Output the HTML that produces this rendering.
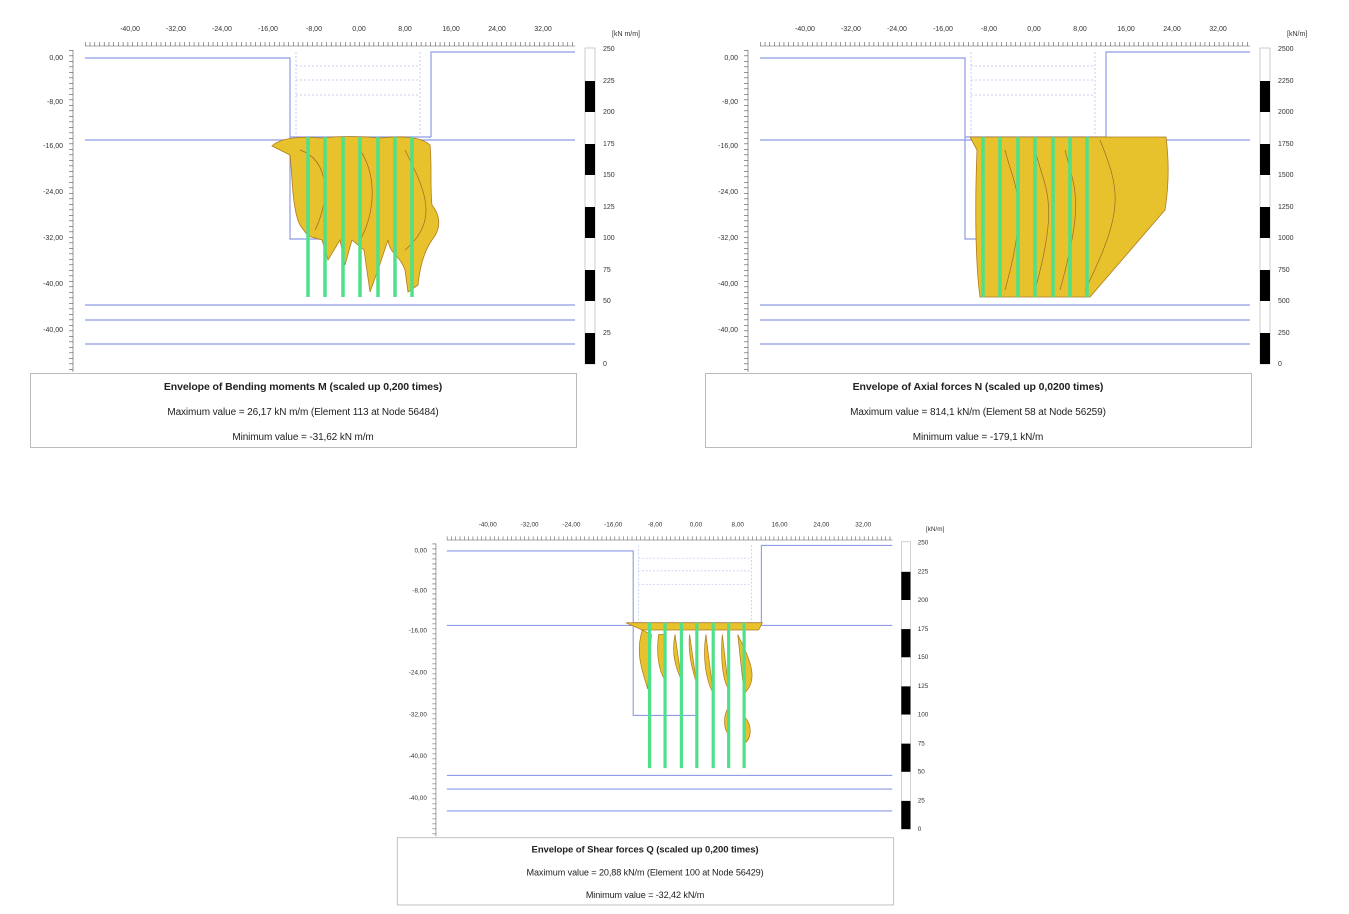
<!DOCTYPE html>
<html><head><meta charset="utf-8"><style>
body{margin:0;background:#fff;}
svg{display:block;font-family:"Liberation Sans",sans-serif;}
.t{font-size:7px;fill:#333;}
.cap{font-size:10.5px;font-weight:bold;fill:#222;text-anchor:middle;letter-spacing:-0.1px;}
.cv{font-size:10px;fill:#222;text-anchor:middle;letter-spacing:-0.1px;}
.bl{stroke:#8e9be6;stroke-width:1.2;fill:none;}
.dl{stroke:#b8c0f0;stroke-width:0.8;fill:none;stroke-dasharray:2 2;}
.env{fill:#e7c22c;stroke:#b07a20;stroke-width:0.8;}
.pile{stroke:#4fe08a;stroke-width:3.5;}
</style></head><body>
<svg width="1349" height="914" viewBox="0 0 1349 914">
<defs>
<g id="frame">
  <line x1="85" y1="46" x2="575" y2="46" stroke="#555" stroke-width="0.6"/>
  <line x1="85" y1="44" x2="575" y2="44" stroke="#555" stroke-width="4" stroke-dasharray="0.6 4.13"/>
  <line x1="73" y1="50" x2="73" y2="372" stroke="#555" stroke-width="0.6"/>
  <line x1="71" y1="50" x2="71" y2="372" stroke="#555" stroke-width="4" stroke-dasharray="0.6 4.9"/>
  <polyline class="bl" points="85,58 290,58 290,137"/>
  <polyline class="bl" points="431,137 431,52 575,52"/>
  <line class="bl" x1="85" y1="140" x2="575" y2="140"/>
  <polyline class="bl" points="290,137 290,239 360,239"/>
  <line class="bl" x1="290" y1="137" x2="431" y2="137"/>
  <line class="dl" x1="296" y1="66" x2="420" y2="66"/>
  <line class="dl" x1="296" y1="80" x2="420" y2="80"/>
  <line class="dl" x1="296" y1="95" x2="420" y2="95"/>
  <line class="dl" x1="296" y1="52" x2="296" y2="137"/>
  <line class="dl" x1="420" y1="52" x2="420" y2="137"/>
  <line class="bl" x1="85" y1="305" x2="575" y2="305"/>
  <line class="bl" x1="85" y1="320" x2="575" y2="320"/>
  <line class="bl" x1="85" y1="344" x2="575" y2="344"/>
  <rect x="585" y="48" width="10" height="316" fill="#fff" stroke="#999" stroke-width="0.5"/>
  <rect x="585" y="81" width="10" height="31" fill="#000"/>
  <rect x="585" y="144" width="10" height="31" fill="#000"/>
  <rect x="585" y="207" width="10" height="31" fill="#000"/>
  <rect x="585" y="270" width="10" height="31" fill="#000"/>
  <rect x="585" y="333" width="10" height="31" fill="#000"/>
  <rect x="30.5" y="373.5" width="546" height="74" fill="#fff" stroke="#bbb"/>
</g>
<g id="xlab">
  <text class="t" x="130" y="31" text-anchor="middle">-40,00</text>
  <text class="t" x="176" y="31" text-anchor="middle">-32,00</text>
  <text class="t" x="222" y="31" text-anchor="middle">-24,00</text>
  <text class="t" x="268" y="31" text-anchor="middle">-16,00</text>
  <text class="t" x="314" y="31" text-anchor="middle">-8,00</text>
  <text class="t" x="359" y="31" text-anchor="middle">0,00</text>
  <text class="t" x="405" y="31" text-anchor="middle">8,00</text>
  <text class="t" x="451" y="31" text-anchor="middle">16,00</text>
  <text class="t" x="497" y="31" text-anchor="middle">24,00</text>
  <text class="t" x="543" y="31" text-anchor="middle">32,00</text>
  <text class="t" x="63" y="60" text-anchor="end">0,00</text>
  <text class="t" x="63" y="104" text-anchor="end">-8,00</text>
  <text class="t" x="63" y="148" text-anchor="end">-16,00</text>
  <text class="t" x="63" y="194" text-anchor="end">-24,00</text>
  <text class="t" x="63" y="240" text-anchor="end">-32,00</text>
  <text class="t" x="63" y="286" text-anchor="end">-40,00</text>
  <text class="t" x="63" y="332" text-anchor="end">-40,00</text>
</g>
<g id="piles">
  <line class="pile" x1="308" y1="137" x2="308" y2="297"/>
  <line class="pile" x1="325" y1="137" x2="325" y2="297"/>
  <line class="pile" x1="343" y1="137" x2="343" y2="297"/>
  <line class="pile" x1="360" y1="137" x2="360" y2="297"/>
  <line class="pile" x1="378" y1="137" x2="378" y2="297"/>
  <line class="pile" x1="395" y1="137" x2="395" y2="297"/>
  <line class="pile" x1="412" y1="137" x2="412" y2="297"/>
</g>
</defs>

<use href="#frame"/>
<use href="#xlab"/>
<text class="t" x="612" y="36">[kN m/m]</text>
<g class="t"><text x="603" y="51">250</text><text x="603" y="83">225</text><text x="603" y="114">200</text><text x="603" y="146">175</text><text x="603" y="177">150</text><text x="603" y="209">125</text><text x="603" y="240">100</text><text x="603" y="272">75</text><text x="603" y="303">50</text><text x="603" y="335">25</text><text x="603" y="366">0</text></g>
<path class="env" d="M272,146 C280,138 300,136 320,138 C340,136 360,136 380,138 C400,136 420,136 430,145 C432,160 430,190 432,205 C440,215 442,228 432,240 C425,250 420,265 418,285 L408,292 L405,270 C400,255 390,255 388,240 L378,270 L370,292 L364,250 L352,240 L345,265 L340,240 L328,260 L322,240 L308,236 L300,225 C292,210 292,170 290,155 Z"/>
<path d="M300,150 C330,160 330,200 315,230 M360,150 C380,180 372,220 360,240 M405,150 C425,190 440,220 405,250" stroke="#9a6a2a" stroke-width="0.7" fill="none"/>
<use href="#piles"/>
<text class="cap" x="303" y="390">Envelope of Bending moments M (scaled up 0,200 times)</text>
<text class="cv" x="303" y="415">Maximum value = 26,17 kN m/m (Element 113 at Node 56484)</text>
<text class="cv" x="303" y="440">Minimum value = -31,62 kN m/m</text>

<g transform="translate(675,0)">
<use href="#frame"/>
<use href="#xlab"/>
<text class="t" x="612" y="36">[kN/m]</text>
<g class="t"><text x="603" y="51">2500</text><text x="603" y="83">2250</text><text x="603" y="114">2000</text><text x="603" y="146">1750</text><text x="603" y="177">1500</text><text x="603" y="209">1250</text><text x="603" y="240">1000</text><text x="603" y="272">750</text><text x="603" y="303">500</text><text x="603" y="335">250</text><text x="603" y="366">0</text></g>
<path class="env" d="M295,137 L491,137 C494,160 494,185 490,210 L415,297 L305,297 C300,260 300,200 302,150 Z"/>
<path d="M330,150 C340,190 355,200 330,290 M360,150 C370,190 385,200 360,290 M390,150 C400,190 410,200 385,290 M425,140 C445,190 450,210 410,290" stroke="#9a6a2a" stroke-width="0.7" fill="none"/>
<use href="#piles"/>
<text class="cap" x="303" y="390">Envelope of Axial forces N (scaled up 0,0200 times)</text>
<text class="cv" x="303" y="415">Maximum value = 814,1 kN/m (Element 58 at Node 56259)</text>
<text class="cv" x="303" y="440">Minimum value = -179,1 kN/m</text>
</g>

<g transform="translate(369.6,498.2) scale(0.909)">
<use href="#frame"/>
<use href="#xlab"/>
<text class="t" x="612" y="36">[kN/m]</text>
<g class="t"><text x="603" y="51">250</text><text x="603" y="83">225</text><text x="603" y="114">200</text><text x="603" y="146">175</text><text x="603" y="177">150</text><text x="603" y="209">125</text><text x="603" y="240">100</text><text x="603" y="272">75</text><text x="603" y="303">50</text><text x="603" y="335">25</text><text x="603" y="366">0</text></g>
<path class="env" d="M282,137 L432,137 L428,145 L300,145 Z"/>
<path class="env" d="M300,145 C292,170 300,190 306,210 L310,150 Z M318,150 C315,170 318,190 325,200 L326,150 Z M336,150 C332,170 336,185 343,200 Z M352,150 C350,170 354,185 360,205 Z M370,150 C366,175 370,200 378,215 Z M388,150 C386,175 388,200 395,210 Z M405,150 C420,180 428,200 412,215 Z M412,240 C422,250 420,265 412,270 Z M395,230 C388,240 390,255 395,260 Z"/>
<use href="#piles"/>
<text class="cap" x="303" y="390">Envelope of Shear forces Q (scaled up 0,200 times)</text>
<text class="cv" x="303" y="415">Maximum value = 20,88 kN/m (Element 100 at Node 56429)</text>
<text class="cv" x="303" y="440">Minimum value = -32,42 kN/m</text>
</g>
</svg>
</body></html>
